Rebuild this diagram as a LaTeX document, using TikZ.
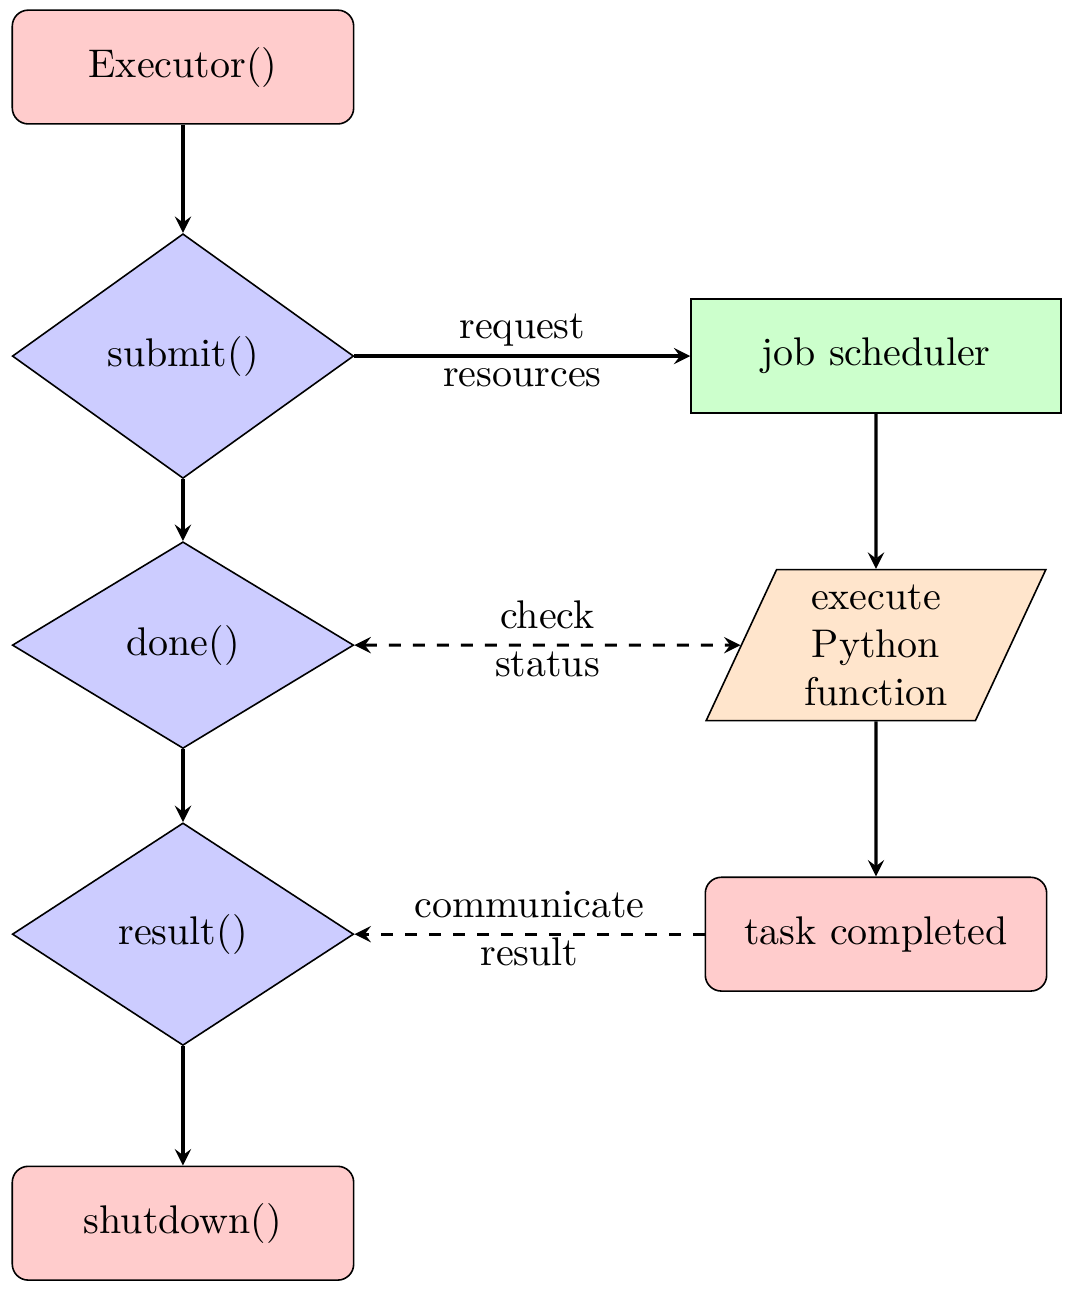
\documentclass[tikz,border=0pt]{standalone}
\usetikzlibrary{shapes.geometric}

\tikzset{
  startstop/.style={rectangle, rounded corners, minimum width=3cm, minimum height=1cm, text centered, draw=black, fill=red!20},
  decision/.style={diamond, minimum width=3cm, text centered, draw=black, fill=blue!20},
  process/.style={rectangle, minimum width=3.25cm, minimum height=1cm, text centered, draw=black, fill=green!20},
  io/.style={trapezium, trapezium left angle=65, trapezium right angle=115, minimum width=3cm, inner ysep=1pt, align=center, draw=black, fill=orange!20},
  arrow/.style={thick,->,>=stealth},
  darrow/.style={thick,->,>=stealth,dashed},
  edgelabel/.style={align=center, yshift=1.5pt},
}

\begin{document}
\begin{tikzpicture}
    \useasboundingbox (-1.608,0.589) rectangle (7.794,-10.747);

    % Executor side
    \node (start) [startstop] at (0,0) {Executor()};
    \node (submit) [decision] at (0,-2.54) {submit()};
    \node (done) [decision] at (0,-5.08) {done()};
    \node (result) [decision] at (0,-7.62) {result()};
    \node (stop) [startstop] at (0,-10.16) {shutdown()};

    % Cluster side
    \node (sched) [process] at (6.09,-2.54) {job scheduler};
    \node (exec) [io] at (6.09,-5.08) {execute\\Python\\function};
    \node (task) [startstop] at (6.09,-7.62) {task completed};

    % Arrows
    \draw [arrow] (start) -- (submit);
    \draw [arrow] (submit) -- (done);
    \draw [arrow] (done) -- (result);
    \draw [arrow] (result) -- (stop);
    \draw [arrow] (submit) -- node[edgelabel] {request\\resources} (sched);
    \draw [arrow] (sched) -- (exec);
    \draw [arrow] (exec) -- (task);
    \draw [darrow,<->] (done) -- node[edgelabel] {check\\status} (exec);
    \draw [darrow] (task) -- node[edgelabel] {communicate\\result} (result);
\end{tikzpicture}
\end{document}
